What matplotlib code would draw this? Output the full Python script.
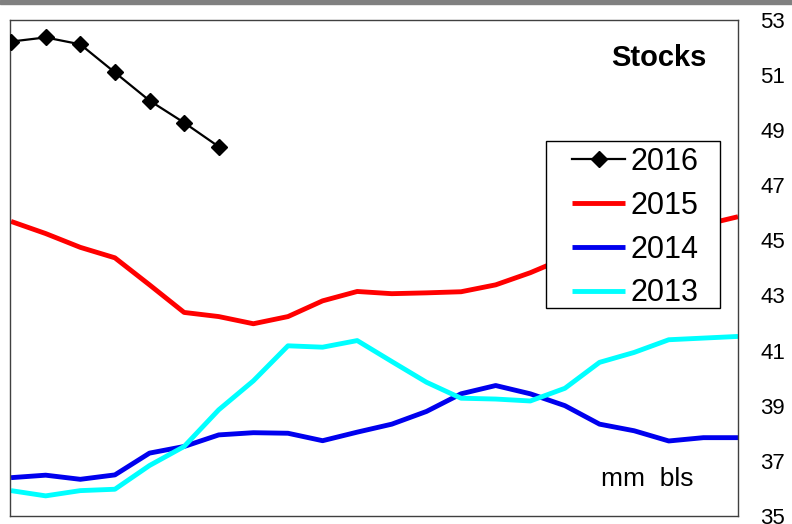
import matplotlib
matplotlib.use('Agg')
import matplotlib.pyplot as plt
from matplotlib.patches import Rectangle
import numpy as np

plt.rcParams['font.family'] = ['Liberation Sans', 'DejaVu Sans']

# weekly stocks, mm bls
s2016 = [52.2, 52.35, 52.1, 51.08, 50.06, 49.26, 48.39]
s2015 = [45.68, 45.24, 44.74, 44.36, 43.38, 42.38, 42.23, 41.97, 42.23, 42.80, 43.14,
         43.06, 43.09, 43.13, 43.38, 43.82, 44.35, 44.75, 45.05, 45.3, 45.55, 45.85]
s2014 = [36.39, 36.48, 36.33, 36.49, 37.28, 37.52, 37.94, 38.02, 38.00, 37.73, 38.04,
         38.33, 38.79, 39.43, 39.73, 39.43, 39.00, 38.33, 38.09, 37.72, 37.84, 37.84]
s2013 = [35.92, 35.73, 35.92, 35.97, 36.83, 37.52, 38.85, 39.90, 41.17, 41.12, 41.36,
         40.60, 39.85, 39.27, 39.24, 39.17, 39.63, 40.57, 40.93, 41.39, 41.45, 41.51]
yticks = list(range(35, 54, 2))

fig = plt.figure(figsize=(7.92, 5.24), dpi=100)
fig.patches.append(Rectangle((0, 1 - 4 / 524), 1, 4 / 524, transform=fig.transFigure,
                             color='#808080', zorder=0))
ax = fig.add_axes([10 / 792, 8 / 524, 728 / 792, 496.5 / 524])

ax.plot(range(len(s2016)), s2016, color='black', lw=1.6, marker='D', ms=8.5, label='2016', zorder=3)
ax.plot(range(len(s2015)), s2015, color='#ff0000', lw=3.5, label='2015', solid_capstyle='butt')
ax.plot(range(len(s2014)), s2014, color='#0000ee', lw=3.5, label='2014', solid_capstyle='butt')
ax.plot(range(len(s2013)), s2013, color='#00ffff', lw=3.5, label='2013', solid_capstyle='butt')

ax.set_xlim(-0.03, 21)
ax.set_ylim(35, 53)
ax.set_xticks([])
ax.yaxis.tick_right()
ax.set_yticks(yticks)
ax.tick_params(axis='y', length=0, pad=16, labelsize=16)
for sp in ax.spines.values():
    sp.set_color('#404040')
    sp.set_linewidth(1)

# legend box
x0, x1, y0, y1 = 546, 720, 141, 308
ax.add_patch(Rectangle(((x0 - 10) / 728, (516 - y1) / 496.5), (x1 - x0) / 728, (y1 - y0) / 496.5,
                       transform=ax.transAxes, facecolor='white', edgecolor='black', lw=1, zorder=4.5))
ax.legend(loc='upper left', bbox_to_anchor=((572 - 10) / 728, (516 - 147) / 496.5),
          frameon=False, fontsize=22, borderpad=0, borderaxespad=0, handlelength=1.75,
          handletextpad=0.15, labelspacing=0.45)

ax.text(0.891, 0.922, 'Stocks', transform=ax.transAxes, ha='center', va='center',
        fontsize=21, fontweight='bold')
ax.text(0.876, 0.060, 'mm  bls', transform=ax.transAxes, ha='center', va='baseline', fontsize=19)

fig.savefig('out.png', dpi=100)
